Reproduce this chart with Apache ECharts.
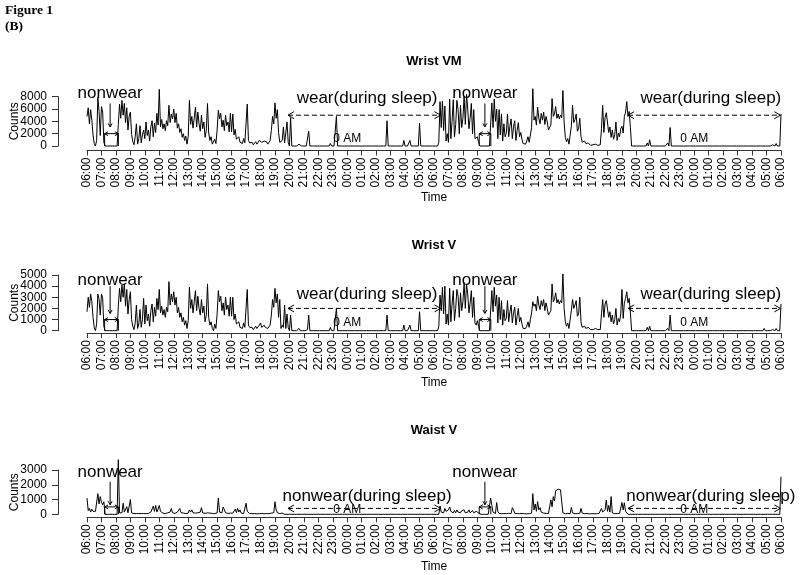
<!DOCTYPE html>
<html><head><meta charset="utf-8">
<script src="https://cdn.jsdelivr.net/npm/echarts@6.0.0/dist/echarts.min.js"></script>
<style>html,body{margin:0;padding:0;background:#fff}#c{width:800px;height:575px}</style>
</head><body><div id="c"></div>
<script>
// 5-minute samples from 06:00 (day 1) to 06:00 (day 3); one row per hour
const wristVM = [
 4800,6200,3600,5900,4200,1800,400,0,900,7900,5600,1700,
 6400,5500,600,0,0,0,0,0,0,0,0,0,
 0,0,3500,6800,4500,7400,5000,6900,3800,6200,2600,4800,
 5500,1900,700,200,1500,3600,300,1200,3300,500,1800,2600,
 1200,3900,1700,2600,800,3100,4100,1500,3700,2200,5300,3400,
 9200,3100,4300,2800,3600,2500,4100,3300,6600,3800,5200,4400,
 6000,3800,5300,2900,3600,2200,2800,1400,2000,900,1600,300,
 1500,7400,3500,4800,2900,4500,6300,3100,5500,3600,2400,5000,
 2800,3900,1400,2500,6900,2100,900,1500,300,0,1100,400,
 2600,5800,4400,5300,3100,4200,2500,5000,3300,3900,2300,5300,
 2300,5200,1800,2700,1100,900,1500,600,800,400,1200,500,
 700,6800,900,500,300,600,200,400,700,300,500,900,
 1200,600,400,800,500,700,300,600,900,2500,4800,3600,
 7000,4500,5900,2200,600,300,900,3100,500,300,3900,600,
 0,4600,0,100,0,0,0,0,300,0,0,0,
 0,0,0,200,2400,0,0,0,0,0,0,0,
 0,0,0,0,0,0,0,0,100,0,400,0,
 0,0,0,4800,0,0,0,0,0,0,0,0,
 0,0,0,0,0,0,0,0,0,0,0,0,
 0,0,0,0,0,0,0,0,0,100,0,0,
 0,0,0,0,0,0,0,0,0,4100,0,0,
 0,0,0,0,0,0,0,0,0,0,0,900,
 0,0,0,0,900,0,0,0,0,0,0,0,
 3700,0,0,0,0,0,0,0,0,0,0,0,
 0,0,0,0,600,7200,3000,7300,2500,6500,800,2000,
 600,7600,1200,4000,7500,1500,3500,7400,5900,2000,6600,3000,
 4500,8100,3500,8400,6000,2800,4500,6900,2000,5900,1200,900,
 1500,600,0,0,0,0,0,0,0,0,0,0,
 7000,3000,7600,4000,6000,1200,5900,1800,5200,800,3600,1500,
 2000,5200,1500,3200,4400,1200,3100,4100,900,2500,3800,1500,
 2200,1100,400,200,300,800,1500,600,1800,3000,9300,4200,
 4800,3400,6300,4500,3600,5300,4200,5500,3500,4800,3900,2600,
 2900,3400,7700,4800,5200,6400,4500,5200,4400,5000,4600,9000,
 3800,1400,700,1200,300,500,3200,6600,3800,4300,5200,2400,
 2800,4500,1500,600,300,800,400,200,500,300,100,200,
 200,100,300,200,100,400,200,2800,6600,2200,4600,5400,
 5500,2200,3100,1400,2600,1100,1800,3900,900,2100,1500,2800,
 3200,2100,4800,5500,7200,4800,5600,3000,0,0,0,0,
 0,0,0,0,0,0,0,0,0,500,0,1000,
 0,0,0,200,0,0,0,0,0,0,0,0,
 0,0,500,0,3000,0,0,0,0,0,0,0,
 0,0,0,0,0,0,0,0,0,0,0,0,
 0,0,0,0,0,0,0,0,0,0,0,0,
 0,0,0,0,0,0,100,0,0,0,0,0,
 0,0,0,0,0,0,0,0,0,0,0,0,
 0,0,0,0,0,0,0,0,0,0,0,0,
 0,0,0,0,0,0,0,0,0,0,300,0,
 0,0,300,0,0,200,0,0,400,0,0,0,
 5200
];
const wristV = [
 1700,3000,2100,3300,2600,1200,300,0,600,3300,2800,1400,
 3300,2900,400,0,0,0,0,0,0,0,0,0,
 0,0,2200,3800,2600,4100,3000,4200,2200,3700,1500,2800,
 3500,1000,400,100,700,2300,200,600,1900,300,1000,2900,
 600,2300,900,1500,400,1800,2400,800,2100,1300,2900,1900,
 3700,1600,2200,1400,1900,1200,2100,1700,4400,2300,3300,2600,
 3500,2300,3000,1600,2100,1200,1600,800,1200,500,900,200,
 900,3900,2000,2800,1600,2600,3600,1800,3100,2000,1400,2800,
 1600,2200,800,1400,4200,1200,500,800,200,0,600,200,
 1500,3600,2600,3100,1800,2500,1400,3000,1900,2300,1300,3000,
 1300,3000,1000,1500,600,500,800,300,400,200,700,300,
 400,3700,500,300,200,300,100,200,400,200,300,500,
 700,300,200,500,300,400,200,300,500,1400,2800,2100,
 3800,2500,3300,1200,2800,200,500,300,2300,200,1500,300,
 0,1400,0,100,0,0,0,0,200,0,0,0,
 0,0,0,100,1400,0,0,0,0,0,0,0,
 0,0,0,0,0,0,0,0,0,0,300,0,
 0,0,0,2000,0,0,0,0,0,0,0,0,
 0,0,0,0,0,0,0,0,0,0,0,0,
 0,0,0,0,0,0,0,0,0,100,0,0,
 0,0,0,0,0,0,0,0,0,1400,0,0,
 0,0,0,0,0,0,0,0,0,0,0,500,
 0,0,0,0,500,0,0,0,0,0,0,0,
 1700,0,0,0,0,0,0,0,0,0,0,0,
 0,0,0,0,400,3200,1800,3900,1500,4000,600,1500,
 500,3800,800,2400,3600,900,2000,3700,3100,1200,3400,1800,
 2600,4300,2000,4200,3300,1600,2500,3600,1200,3000,700,500,
 900,400,0,0,0,0,0,0,0,0,0,0,
 3600,1700,3900,2200,3200,700,3000,1000,2700,500,1900,900,
 1100,2700,800,1700,2300,700,1600,2100,500,1300,2000,800,
 1200,600,200,100,200,400,800,300,1000,1600,2600,2200,
 2400,1800,3100,2300,1900,2700,2200,2800,1800,2500,2000,1400,
 1600,1800,4200,2600,2800,3400,2500,2800,2400,2700,2500,5100,
 2000,800,400,700,200,300,1800,2800,2000,2300,2700,1300,
 1500,3000,800,300,200,400,200,100,300,200,100,100,
 100,100,200,100,100,200,100,1500,2800,1200,2400,2700,
 2800,1200,1700,800,1400,600,1000,2000,500,1100,800,1500,
 3700,1100,2500,2900,3500,2500,2900,1600,0,0,0,0,
 0,0,0,0,0,0,0,0,0,300,0,400,
 0,0,0,100,0,0,0,0,0,0,0,0,
 0,0,200,0,1400,0,0,0,0,0,0,0,
 0,0,0,0,0,0,0,0,0,0,0,0,
 0,0,0,0,0,0,0,0,0,0,0,0,
 0,0,0,0,0,0,100,0,0,0,0,0,
 0,0,0,0,0,0,0,0,0,0,0,0,
 0,0,0,0,0,0,0,0,0,0,0,0,
 0,0,0,0,0,0,0,0,0,0,200,0,
 0,0,100,0,0,100,0,0,200,0,0,0,
 2400
];
const waistV = [
 1100,250,400,150,350,200,100,200,300,1400,700,1200,
 800,650,850,0,0,0,0,0,0,0,0,0,
 0,0,3700,100,50,100,750,150,100,520,100,50,
 1000,100,50,50,80,50,30,50,80,50,30,50,
 50,40,80,60,100,150,80,550,200,600,150,100,
 600,200,100,80,60,50,80,100,60,150,400,100,
 80,60,100,150,80,400,120,60,80,100,50,80,
 80,300,150,300,100,60,80,50,100,80,150,450,
 100,80,60,50,100,60,80,200,60,50,40,80,
 100,1100,150,200,100,500,300,100,80,60,100,80,
 60,80,100,350,120,400,150,300,80,60,50,100,
 750,200,100,60,50,40,60,50,40,30,50,40,
 150,50,30,40,60,50,30,40,60,80,50,100,
 850,300,100,60,50,150,80,50,0,0,0,0,
 0,0,0,0,0,0,0,0,0,0,0,0,
 0,0,0,0,0,0,0,0,0,0,0,0,
 0,0,0,0,0,0,0,0,0,0,0,0,
 0,0,0,0,0,0,0,0,0,0,0,0,
 0,0,0,0,0,0,0,0,0,0,0,0,
 0,0,0,0,0,0,0,0,0,0,0,0,
 0,0,0,0,0,0,0,0,0,0,0,0,
 0,0,0,0,0,0,0,0,0,0,0,0,
 0,0,0,0,0,0,0,0,0,0,0,0,
 0,0,0,0,0,0,0,0,0,0,0,0,
 0,0,0,0,0,560,150,250,100,400,200,150,
 300,500,200,150,100,250,100,300,150,200,100,250,
 150,300,100,200,150,300,100,150,250,100,150,200,
 250,100,0,0,0,0,0,0,0,0,0,1100,
 600,150,100,50,800,200,60,50,40,30,50,60,
 50,40,60,80,50,450,300,60,40,50,30,40,
 40,50,30,40,50,30,60,40,50,80,1400,300,
 700,200,860,300,450,150,100,80,50,60,40,50,
 80,970,500,1200,900,1600,1650,1700,1600,1650,1550,100,
 50,40,30,60,50,40,475,100,50,40,30,50,
 40,60,400,80,50,40,30,50,40,30,50,40,
 30,40,50,40,30,60,40,400,150,100,300,970,
 200,600,150,1200,100,50,40,30,50,40,60,50,
 800,300,780,200,100,0,0,0,0,0,0,0,
 0,0,0,0,0,0,0,0,0,0,0,0,
 0,0,0,0,0,0,0,0,0,0,0,0,
 0,0,0,0,0,0,0,0,0,0,0,0,
 0,0,0,0,0,0,0,0,0,0,0,0,
 0,0,0,0,0,0,0,0,0,0,0,0,
 0,0,0,0,0,0,0,0,0,0,0,0,
 0,0,0,0,0,0,0,0,0,0,0,0,
 0,0,0,0,0,0,0,0,0,0,0,0,
 0,0,0,0,0,0,0,0,0,0,0,0,
 0,0,0,0,0,0,0,0,0,0,0,0,
 2550
];
const panelTitles = ['Wrist VM', 'Wrist V', 'Waist V'];
const yTicks = [[0, 2000, 4000, 6000, 8000], [0, 1000, 2000, 3000, 4000, 5000], [0, 1000, 2000, 3000]];
// annotation values (hours since 06:00 day 1, counts)
const nonwearT = [[1.22, 2.17], [27.13, 27.93]];
const nonwearLabelT = [1.6, 27.52];
const sleepT = [[13.9, 24.45], [37.42, 47.96]];
const sleepLabelT = [19.37, 43.15];
const midnightT = [18, 42];
const boxLevel = [2000, 1000, 500];
const pointerFrom = [6900, 4000, 2200];
const pointerTo = [3100, 1550, 650];
const nonwearTextLevel = [8480, 4550, 2820];
const sleepLevel = [5000, 2000, 400];
const sleepTextLevel = [7700, 3300, 1200];
const amLevel = [1140, 720, 290];
const sleepLabels = ['wear(during sleep)', 'wear(during sleep)', 'nonwear(during sleep)'];

const FONT = '"Liberation Sans", Arial, sans-serif';
const seriesData = [wristVM, wristV, waistV];
const gridTop = [96.7, 275, 470];
const gridH = [49.3, 55.7, 44.3];
const xOffset = [4.5, 2.5, 3];
const timeGap = [40, 43, 43];

function hourLabel(v){ const h = (6 + v) % 24; return (h < 10 ? '0' : '') + h + ':00'; }

function annoSeries(p){
  return {
    type: 'custom', xAxisIndex: p, yAxisIndex: 2*p, data: [[24, 0]], silent: true, clip: false, z: 5,
    renderItem: function(params, api){
      const ch = [];
      const C = (t, v) => api.coord([t, v]);
      function line(pts, dash){ ch.push({type:'polyline', shape:{points:pts}, style:{stroke:'#000', fill:null, lineWidth:1, lineDash: dash || null}}); }
      function head(tip, from, len){
        const dx = tip[0]-from[0], dy = tip[1]-from[1]; const L = Math.hypot(dx,dy) || 1;
        const ux = dx/L, uy = dy/L, a = Math.PI/6, c = Math.cos(a), s = Math.sin(a);
        const p1 = [tip[0] - len*(ux*c - uy*s), tip[1] - len*(uy*c + ux*s)];
        const p2 = [tip[0] - len*(ux*c + uy*s), tip[1] - len*(uy*c - ux*s)];
        line([p1, tip, p2]);
      }
      function text(str, pt, size){
        ch.push({type:'text', style:{text:str, x:pt[0], y:pt[1], align:'center', verticalAlign:'middle', textAlign:'center', textVerticalAlign:'middle', fontSize:size, fontFamily:FONT, fill:'#000'}});
      }
      for (let d = 0; d < 2; d++){
        const [a, b] = nonwearT[d];
        const a0 = C(a,0), a1 = C(a,boxLevel[p]), b0 = C(b,0), b1 = C(b,boxLevel[p]);
        line([a0,a1]); line([b0,b1]); line([a1,b1]);
        head(a1, b1, 4); head(b1, a1, 4);
        const f = C(nonwearLabelT[d], pointerFrom[p]), t = C(nonwearLabelT[d], pointerTo[p]);
        line([f,t]); head(t, f, 4);
        text('nonwear', C(nonwearLabelT[d], nonwearTextLevel[p]), 17);
        const [s0, s1] = sleepT[d];
        const sa = C(s0, sleepLevel[p]), sb = C(s1, sleepLevel[p]);
        line([sa, sb], [5,3]);
        head(sa, sb, 7); head(sb, sa, 7);
        text(sleepLabels[p], C(sleepLabelT[d], sleepTextLevel[p]), 17);
        text('0 AM', C(midnightT[d], amLevel[p]), 12);
      }
      return {type:'group', children: ch};
    }
  };
}

const grids = [], xAxes = [], yAxes = [], series = [];
for (let p = 0; p < 3; p++){
  const ticks = yTicks[p];
  const yMin = ticks[0], yMaxV = ticks[ticks.length - 1], step = ticks[1] - ticks[0];
  grids.push({left: 87, right: 19, top: gridTop[p], height: gridH[p], containLabel:false, outerBoundsMode:'none'});
  xAxes.push({
    type:'value', gridIndex:p, min:0, max:48, interval:1, offset:xOffset[p],
    name:'Time', nameLocation:'middle', nameGap:timeGap[p], nameTextStyle:{fontSize:12, fontFamily:FONT, color:'#000'},
    axisLine:{show:true, onZero:false, lineStyle:{color:'#333', width:1}},
    axisTick:{show:true, length:5, lineStyle:{color:'#333'}},
    axisLabel:{rotate:90, margin:7, fontSize:12, fontFamily:FONT, color:'#000', formatter: hourLabel, hideOverlap:false, showMinLabel:true, showMaxLabel:true},
    splitLine:{show:false}
  });
  // main y axis: line, ticks and every other label
  yAxes.push({
    type:'value', gridIndex:p, position:'left', min:yMin, max:yMaxV, interval:step, offset:29,
    name:'Counts', nameLocation:'middle', nameGap:37, nameRotate:90, nameMoveOverlap:false,
    nameTextStyle:{fontSize:12, fontFamily:FONT, color:'#000'},
    axisLine:{show:true, onZero:false, lineStyle:{color:'#333', width:1}},
    axisTick:{show:true, length:6, lineStyle:{color:'#333'}, customValues: ticks},
    axisLabel:{margin:11, fontSize:12, fontFamily:FONT, color:'#000', formatter: v => String(v),
      customValues: ticks.filter((v,i)=>i%2===0), hideOverlap:false},
    splitLine:{show:false}
  });
  // companion y axis: remaining labels only
  yAxes.push({
    type:'value', gridIndex:p, position:'left', min:yMin, max:yMaxV, interval:step, offset:29,
    axisLine:{show:false}, axisTick:{show:false},
    axisLabel:{margin:11, fontSize:12, fontFamily:FONT, color:'#000', formatter: v => String(v),
      customValues: ticks.filter((v,i)=>i%2===1), hideOverlap:false},
    splitLine:{show:false}
  });
  series.push({
    type:'line', xAxisIndex:p, yAxisIndex:2*p, showSymbol:false, clip:false, silent:true,
    lineStyle:{color:'#000', width:1}, data: seriesData[p].map((v,i)=>[i/12, v])
  });
  series.push(annoSeries(p));
}

const titleY = [61, 245, 430.7];
const graphic = [
  {type:'text', left:5, top:4, style:{text:'Figure 1', fontSize:13.5, fontWeight:'bold', fontFamily:'"Liberation Serif", "Times New Roman", serif', fill:'#000'}},
  {type:'text', left:5, top:20, style:{text:'(B)', fontSize:13.5, fontWeight:'bold', fontFamily:'"Liberation Serif", "Times New Roman", serif', fill:'#000'}}
];
for (let p = 0; p < 3; p++){
  graphic.push({type:'text', x:434, y:titleY[p], style:{text:panelTitles[p], fontSize:13, fontWeight:'bold', fontFamily:FONT, fill:'#000', align:'center', verticalAlign:'middle'}});
}

const chart = echarts.init(document.getElementById('c'), null, {renderer:'canvas'});
chart.setOption({
  animation:false, backgroundColor:'#fff',
  grid: grids, xAxis: xAxes, yAxis: yAxes, series: series, graphic: graphic
});
</script></body></html>
